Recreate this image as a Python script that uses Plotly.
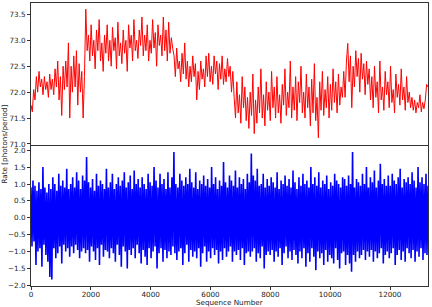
import numpy as np
import plotly.graph_objects as go
from plotly.subplots import make_subplots

# Top series (rate, photons/period), sampled along the sequence
rate_values = [
    71.75, 71.62, 72.05, 71.85, 72.3, 72.0, 72.4, 72.1, 72.25, 71.95, 72.3, 72.05, 72.2, 71.9, 72.35, 72.05, 72.25, 71.95, 72.45, 72.1,
    72.6, 71.85, 72.3, 71.55, 72.5, 72.05, 72.6, 72.1, 72.95, 71.5, 72.5, 72.0, 72.7, 72.1, 72.8, 71.75, 72.55, 72.0, 72.4, 71.5, 72.3,
    73.6, 72.8, 73.1, 72.6, 73.3, 72.7, 73.0, 72.45, 73.2, 72.8, 73.4, 72.6, 72.95, 72.4, 73.1, 72.75, 73.3, 72.6, 73.0, 72.5,
    73.25, 72.8, 73.05, 72.45, 73.35, 72.7, 72.95, 72.55, 73.2, 72.75, 73.0, 72.4, 73.3, 72.85, 73.1, 72.6, 73.4, 72.8, 73.0, 72.65,
    73.2, 72.9, 73.45, 72.7, 73.1, 72.8, 73.3, 72.6, 73.0, 72.75, 73.4, 72.85, 73.15, 72.5, 73.3, 72.9, 73.1, 72.7, 73.45, 72.8,
    73.2, 72.6, 73.35, 72.75, 73.05, 72.85,
    72.7, 72.3, 72.85, 72.45, 72.6, 72.2, 72.75, 72.35, 72.95, 72.25, 72.6, 72.1, 72.5, 72.2, 72.7, 72.3, 72.55, 71.85, 72.4, 72.05,
    72.6, 72.25, 72.45, 72.1, 72.7, 72.3, 72.75, 72.2, 72.5, 72.15, 72.7, 72.35, 72.6, 72.05, 72.55, 72.25, 72.7, 72.15, 72.45, 72.2,
    72.65, 72.3, 72.5, 72.0, 72.4,
    71.9, 71.5, 72.2, 71.6, 71.95, 71.4, 72.3, 71.7, 72.1, 71.45, 71.9, 71.3, 72.0, 71.55, 72.35, 71.2, 71.85, 71.4, 72.1, 71.6,
    72.45, 71.5, 71.95, 71.35, 72.2, 71.65, 72.0, 71.45, 72.4, 71.7, 72.1, 71.5, 72.3, 71.6, 71.95, 71.4, 72.15, 71.75, 72.45, 71.55,
    72.0, 71.7, 72.6, 71.5, 72.1, 71.65, 72.3, 71.45, 72.2, 71.8, 72.5, 71.6, 72.0, 71.5, 72.35, 71.7, 72.1, 71.35, 72.25, 71.6,
    72.55, 71.45, 71.9, 71.12, 72.2, 71.65, 72.4, 71.55, 72.05, 71.7, 72.3, 71.5, 72.15, 71.65, 72.45, 71.8, 72.2, 71.6, 72.35, 71.75,
    72.1, 71.9,
    72.4, 71.9, 72.6, 72.94, 72.2, 72.7, 71.7, 72.5, 72.1, 72.8, 72.3, 72.65, 72.0, 72.75, 72.25, 72.55, 71.95, 72.6, 72.15, 72.45,
    71.85,
    72.3, 71.7, 72.5, 71.9, 72.2, 71.6, 72.6, 71.85, 72.1, 71.65, 72.4, 71.95, 72.2, 71.7, 72.5, 71.8, 72.05, 71.6, 72.35, 71.9,
    72.15, 71.75, 72.45, 71.85, 72.1, 71.65, 72.3, 71.8, 72.0, 71.7,
    71.9, 71.65, 71.85, 71.6, 71.8, 71.7, 71.95, 71.62, 71.8, 71.68, 71.85, 72.15, 72.1,
]

# Bottom series (residual rate), sampled along the sequence
resid_values = [
    0.9, -0.85, 1.1, -0.7, 0.95, -1.4, 0.8, -1.0, 1.05, -0.9, 0.85, -1.45, 1.5, -0.8, 0.9, -1.1, 0.75, -1.3, 1.0, -1.75,
    0.85, -1.83, 1.2, -0.9, 1.0, -1.2, 0.8, -1.05, 1.3, -0.85, 0.95, -1.35, 1.1, -0.8, 0.9, -1.0, 1.45, -0.9, 0.85, -1.15,
    1.0, -0.85, 1.2, -1.05, 0.9, -0.8, 1.35, -0.95, 1.1, -1.2, 0.85, -1.0, 1.25, -0.9, 1.1, -1.05, 1.8, -0.95, 1.05, -1.3, 0.9,
    -0.85, 1.15, -1.0, 0.8, -1.25, 1.3, -0.9, 0.95, -1.4, 1.1, -0.8, 1.0, -1.15, 0.85, -0.95, 1.45, -1.0, 0.9, -1.2, 1.05,
    -0.9, 1.3, -1.05, 0.85, -1.3, 1.0, -0.8, 1.2, -1.1, 0.95, -1.45, 1.1, -0.85, 1.35, -1.0, 0.9, -1.5, 1.05, -0.95, 1.25,
    -1.1, 0.85, -0.9, 1.4, -1.2, 1.0, -0.8, 1.15, -1.05, 0.9, -1.35, 1.2, -0.95, 1.0, -1.15, 0.85, -1.4, 1.3, -0.9, 1.05,
    -1.2, 0.95, -1.0, 1.5, -0.85, 1.1, -1.5, 0.9, -1.05, 1.3, -0.9, 1.0, -1.3, 1.15, -0.95, 0.85, -1.2, 1.35, -1.0, 0.9,
    -1.1, 1.2, -0.85, 1.95, -1.05, 1.0, -1.25, 0.9, -1.0, 1.3, -0.9, 1.1, -1.4, 0.95, -1.05, 1.2, -0.8, 1.0, -1.3, 1.45,
    -0.95, 1.05, -1.15, 0.9, -1.0, 1.35, -1.2, 0.85, -0.9, 1.1, -1.45, 1.0, -1.05, 1.25, -0.85, 0.95, -1.3, 1.15, -1.0, 0.9,
    -1.2, 1.5, -0.9, 1.0, -1.1, 1.2, -0.95, 0.85, -1.35, 1.1, -1.0, 0.95, -1.25, 1.65, -0.9, 1.05, -1.15, 0.9, -1.0, 1.25,
    -0.85, 1.1, -1.3, 0.95, -1.0, 1.4, -1.1, 0.9, -0.95, 1.2, -1.25, 1.0, -0.9, 1.15, -1.4, 0.85, -1.05, 1.3, -1.0, 1.05,
    -1.15, 1.9, -1.0, 1.25, -0.9, 1.1, -1.3, 1.45, -1.05, 0.95, -1.2, 1.0, -0.85, 1.3, -1.5, 0.9, -1.1, 1.15, -1.0, 0.95,
    -1.1, 1.2, -0.95, 1.05, -1.3, 0.9, -1.0, 1.35, -1.15, 0.85, -0.9, 1.1, -1.4, 1.0, -1.05, 1.25, -0.85, 0.95, -1.2, 1.15,
    -1.0, 0.9, -1.25, 1.4, -0.95, 1.05, -1.1, 0.85, -1.35, 1.2, -1.0, 0.95, -1.2, 1.3, -0.9, 1.0, -1.45, 1.1, -1.05, 0.9,
    -1.3, 1.5, -0.9, 1.0, -1.15, 1.2, -1.55, 0.95, -1.0, 1.35, -1.2, 0.9, -1.05, 1.1, -1.4, 1.0, -0.95, 1.25, -1.3, 0.85,
    -1.1, 1.05, -1.2, 0.95, -1.35, 1.3, -0.9, 1.1, -1.25, 1.0, -1.5, 0.9, -1.05, 1.2, -1.0, 1.15, -1.4, 0.95, -1.1, 1.25,
    -1.35, 1.0, -1.6, 1.95, -1.1, 0.9, -1.3, 1.15, -1.0, 1.05, -1.2, 0.95, -1.1, 1.3, -0.95, 1.0, -1.25, 1.5, -1.0, 0.9,
    -1.15, 1.2, -0.95, 1.05, -1.3, 1.4, -1.0, 0.9, -1.2, 1.1, -1.05, 1.6, -0.9, 1.0, -1.35, 1.15, -1.1, 0.95, -1.0, 1.25,
    -1.2, 0.95, -1.05, 1.3, -0.9, 1.1, -1.4, 1.0, -1.1, 1.2, -0.95, 1.45, -1.25, 0.9, -1.0, 1.15, -1.3, 1.05, -0.9, 1.2,
    -1.05, 1.0, -1.2, 1.35, -0.95, 1.1, -1.3, 0.9, -1.0, 1.5, -1.15, 1.05, -0.9, 1.2, -1.25, 1.0, -1.05, 1.3, -1.1, 0.95,
]

last_sequence = 13269
rate_seq = np.linspace(0, last_sequence, len(rate_values))
resid_seq = np.linspace(0, last_sequence, len(resid_values))

x_ticks = [0, 2000, 4000, 6000, 8000, 10000, 12000]
x_tick_text = ["0", "2000", "4000", "6000", "8000", "10000", "12000"]
top_ticks = [71.0, 71.5, 72.0, 72.5, 73.0, 73.5]
bottom_ticks = [-2.0, -1.5, -1.0, -0.5, 0.0, 0.5, 1.0, 1.5, 2.0]

FONT = "DejaVu Sans"
FS = 7.2
AX = "#333333"
TXT = "#222222"

fig = make_subplots(rows=2, cols=1, shared_xaxes=True, vertical_spacing=0)

fig.add_trace(go.Scatter(x=rate_seq, y=rate_values, mode="lines",
                         line=dict(color="red", width=1), showlegend=False), row=1, col=1)
fig.add_trace(go.Scatter(x=resid_seq, y=resid_values, mode="lines",
                         line=dict(color="blue", width=1.6), showlegend=False), row=2, col=1)

common_axis = dict(showline=True, linecolor=AX, linewidth=1, mirror=True,
                   showgrid=False, zeroline=False,
                   tickfont=dict(family=FONT, size=FS, color=TXT))

fig.update_xaxes(range=[0, 13270], tickvals=x_ticks, ticktext=x_tick_text,
                 ticks="outside", ticklen=3, tickcolor=AX, **common_axis)
fig.update_xaxes(ticks="", showticklabels=False, row=1, col=1)
fig.update_xaxes(ticklabelstandoff=-2, mirror=False, row=2, col=1)

fig.update_yaxes(range=[70.99, 73.72], tickvals=top_ticks, tickformat=".1f",
                 ticks="outside", ticklen=3, tickcolor=AX, row=1, col=1, **common_axis)
fig.update_yaxes(range=[-2.02, 2.17], tickvals=bottom_ticks, tickformat=".1f",
                 ticks="outside", ticklen=3, tickcolor=AX, row=2, col=1, **common_axis)

fig.add_annotation(text="Sequence Number", xref="paper", yref="paper",
                   x=0.5, y=-0.058, xanchor="center", yanchor="middle",
                   showarrow=False, font=dict(family=FONT, size=FS, color=TXT))
fig.add_annotation(text="Rate [photons/period]", xref="paper", yref="paper",
                   x=-0.068, y=0.5, xanchor="center", yanchor="middle",
                   textangle=-90, showarrow=False,
                   font=dict(family=FONT, size=FS, color=TXT))

fig.update_layout(width=432, height=307, margin=dict(l=31, r=4, t=3, b=21),
                  paper_bgcolor="white", plot_bgcolor="white")

fig.write_html("out.html", config={"displayModeBar": False},
               post_script="document.body.style.margin='0px';")
